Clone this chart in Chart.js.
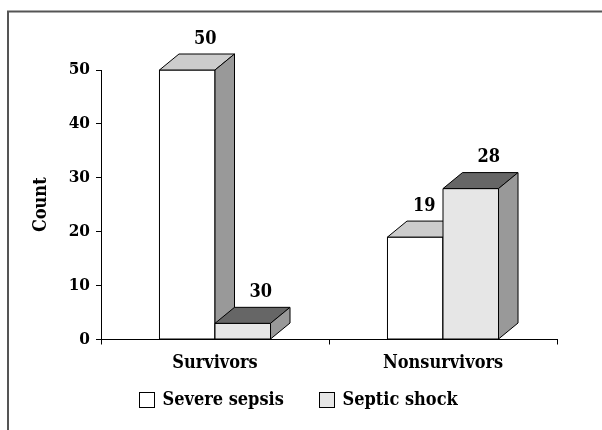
<!DOCTYPE html>
<html>
<head>
<meta charset="utf-8">
<script src="https://cdn.jsdelivr.net/npm/chart.js@4/dist/chart.umd.min.js"></script>
<style>
  html, body { margin: 0; padding: 0; background: #fff; }
  #wrap { width: 602px; height: 430px; position: relative; }
</style>
</head>
<body>
<div id="wrap"><canvas id="chart" width="602" height="430"></canvas></div>
<script>
// data
const categories = ["Survivors", "Nonsurvivors"];
const seriesNames = ["Severe sepsis", "Septic shock"];
const severeSepsis = [50, 19];
const septicShock = [3, 28];          // bar heights as drawn
const severeLabels = ["50", "19"];    // numbers printed above bars
const shockLabels = ["30", "28"];
const yTicks = [0, 10, 20, 30, 40, 50];

// face colours for the fake 3D boxes: front, top, side
const faces = [
    { front: "#ffffff", top: "#cccccc", side: "#999999" },
    { front: "#e6e6e6", top: "#666666", side: "#999999" }
];
const depthX = 19.5;
const depthY = 16;
const fontFamily = "'DejaVu Serif Condensed', 'DejaVu Serif'";
const labelFont = "bold 18px " + fontFamily;

const box3d = {
    id: "box3d",
    beforeDraw(chart) {
        const ctx = chart.ctx;
        ctx.save();
        ctx.strokeStyle = "#555";
        ctx.lineWidth = 2;
        ctx.beginPath();
        ctx.moveTo(8, 430);
        ctx.lineTo(8, 11.5);
        ctx.lineTo(602, 11.5);
        ctx.stroke();
        ctx.restore();
    },
    beforeDatasetsDraw(chart) {
        const ctx = chart.ctx;
        const labelSets = [severeLabels, shockLabels];
        ctx.save();
        ctx.lineWidth = 1;
        ctx.strokeStyle = "#000";
        // draw category by category so the later bar covers the earlier side face
        for (let c = 0; c < categories.length; c++) {
            for (let d = 0; d < chart.data.datasets.length; d++) {
                const bar = chart.getDatasetMeta(d).data[c];
                const p = bar.getProps(["x", "y", "base", "width"], true);
                const l = p.x - p.width / 2, r = p.x + p.width / 2;
                const f = faces[d];

                ctx.fillStyle = f.front;
                ctx.beginPath();
                ctx.rect(l, p.y, p.width, p.base - p.y);
                ctx.fill();
                ctx.stroke();

                ctx.fillStyle = f.top;
                ctx.beginPath();
                ctx.moveTo(l, p.y);
                ctx.lineTo(l + depthX, p.y - depthY);
                ctx.lineTo(r + depthX, p.y - depthY);
                ctx.lineTo(r, p.y);
                ctx.closePath();
                ctx.fill();
                ctx.stroke();

                ctx.fillStyle = f.side;
                ctx.beginPath();
                ctx.moveTo(r, p.y);
                ctx.lineTo(r + depthX, p.y - depthY);
                ctx.lineTo(r + depthX, p.base - depthY);
                ctx.lineTo(r, p.base);
                ctx.closePath();
                ctx.fill();
                ctx.stroke();
            }
        }
        // value labels; a label is pulled left when the next bar is taller
        ctx.fillStyle = "#000";
        ctx.font = labelFont;
        ctx.textAlign = "center";
        ctx.textBaseline = "middle";
        const n = chart.data.datasets.length;
        for (let d = 0; d < n; d++) {
            chart.getDatasetMeta(d).data.forEach((bar, i) => {
                let shift = 18;
                if (d < n - 1 && chart.getDatasetMeta(d + 1).data[i].y < bar.y) shift = 9;
                ctx.fillText(labelSets[d][i], bar.x + shift, bar.y - depthY - 15);
            });
        }
        ctx.restore();
        return false;
    },
    afterDraw(chart) {
        // legend under the axis
        const ctx = chart.ctx;
        const xs = [139.5, 319.5];
        ctx.save();
        ctx.font = labelFont;
        ctx.textBaseline = "middle";
        ctx.textAlign = "left";
        seriesNames.forEach((name, i) => {
            ctx.fillStyle = faces[i].front;
            ctx.strokeStyle = "#000";
            ctx.lineWidth = 1;
            ctx.fillRect(xs[i], 392.5, 15, 15);
            ctx.strokeRect(xs[i], 392.5, 15, 15);
            ctx.fillStyle = "#000";
            ctx.fillText(name, xs[i] + 23, 400.5);
        });
        ctx.restore();
    }
};

Chart.defaults.font.family = fontFamily;
Chart.defaults.font.weight = "bold";
Chart.defaults.color = "#000";

new Chart(document.getElementById("chart"), {
    type: "bar",
    data: {
        labels: categories,
        datasets: [
            { label: seriesNames[0], data: severeSepsis, backgroundColor: faces[0].front },
            { label: seriesNames[1], data: septicShock, backgroundColor: faces[1].front }
        ]
    },
    options: {
        responsive: false,
        animation: false,
        layout: { padding: { left: 0, right: 45, top: 70, bottom: 0 } },
        datasets: { bar: { barPercentage: 1, categoryPercentage: 0.487 } },
        plugins: { legend: { display: false }, tooltip: { enabled: false } },
        scales: {
            x: {
                grid: { offset: true, drawOnChartArea: false, tickLength: 5, color: "#000" },
                border: { color: "#000", width: 1 },
                ticks: { font: { size: 18 }, padding: 8 },
                afterFit(scale) { scale.height = 90.5; }
            },
            y: {
                min: 0,
                max: 50,
                afterBuildTicks(scale) { scale.ticks = yTicks.map(v => ({ value: v })); },
                grid: { drawOnChartArea: false, tickLength: 5, color: "#000" },
                border: { color: "#000", width: 1 },
                ticks: { font: { size: 17 }, padding: 6 },
                title: { display: true, text: "Count", font: { size: 18 }, padding: { top: 31, bottom: 0 } },
                afterFit(scale) { scale.width = 101; }
            }
        }
    },
    plugins: [box3d]
});
</script>
</body>
</html>
